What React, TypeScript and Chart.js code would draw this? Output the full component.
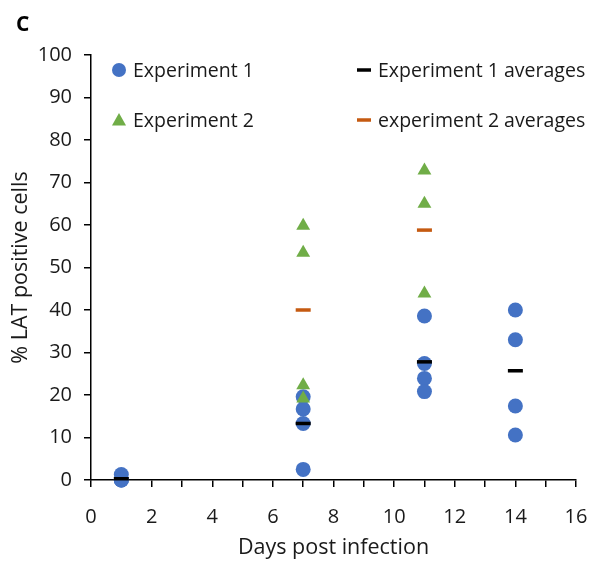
import React, { useEffect, useRef } from "react";
import { Chart, registerables } from "chart.js";

Chart.register(...registerables);

// Days on which samples were taken
const exp1Days = [1, 7, 11, 14];
const exp2Days = [7, 11];

// % LAT positive cells, one list per day
const exp1Values: number[][] = [
  [1.3, 0, 0, 0],
  [19.6, 16.7, 13.3, 2.5],
  [38.6, 27.4, 23.9, 20.8],
  [40, 33, 17.4, 10.6],
];
const exp2Values: number[][] = [
  [59.8, 53.5, 22.3, 19.2],
  [72.8, 65, 43.9],
];

// Per-day averages
const exp1Averages = [0.3, 13.3, 27.8, 25.7];
const exp2Averages = [40, 58.8];

const seriesNames = ["Experiment 1", "Experiment 2", "Experiment 1 averages", "experiment 2 averages"];
const xTitle = "Days post infection";
const yTitle = "% LAT positive cells";
const panelLetter = "C";

const BLUE = "#4472C4";
const GREEN = "#70AD47";
const BLACK = "#000000";
const ORANGE = "#C55A11";
const TEXT = "#1a1a1a";
const FONT = "'Open Sans'";

function toPoints(days: number[], values: number[][]) {
  const pts: { x: number; y: number }[] = [];
  days.forEach((d, i) => values[i].forEach((v) => pts.push({ x: d, y: v })));
  return pts;
}

function avgPoints(days: number[], values: number[]) {
  return days.map((d, i) => ({ x: d, y: values[i] }));
}

const legendPlugin = {
  id: "cornerLegend",
  afterDraw(chart: Chart) {
    const ctx = chart.ctx;
    ctx.save();
    // panel letter
    ctx.fillStyle = BLACK;
    ctx.font = `bold 21px ${FONT}`;
    ctx.textBaseline = "middle";
    ctx.textAlign = "left";
    ctx.fillText(panelLetter, 16, 25);

    ctx.font = `19.5px ${FONT}`;
    const items = [
      { x: 119, y: 70, kind: "circle", color: BLUE, label: seriesNames[0] },
      { x: 119, y: 120, kind: "triangle", color: GREEN, label: seriesNames[1] },
      { x: 364, y: 70, kind: "dash", color: BLACK, label: seriesNames[2] },
      { x: 364, y: 120, kind: "dash", color: ORANGE, label: seriesNames[3] },
    ];
    for (const it of items) {
      ctx.fillStyle = it.color;
      ctx.strokeStyle = it.color;
      if (it.kind === "circle") {
        ctx.beginPath();
        ctx.arc(it.x, it.y, 7, 0, Math.PI * 2);
        ctx.fill();
      } else if (it.kind === "triangle") {
        ctx.beginPath();
        ctx.moveTo(it.x, it.y - 7);
        ctx.lineTo(it.x + 7, it.y + 5.5);
        ctx.lineTo(it.x - 7, it.y + 5.5);
        ctx.closePath();
        ctx.fill();
      } else {
        ctx.lineWidth = 3.5;
        ctx.beginPath();
        ctx.moveTo(it.x - 7, it.y);
        ctx.lineTo(it.x + 7, it.y);
        ctx.stroke();
      }
      ctx.fillStyle = TEXT;
      ctx.fillText(it.label, it.x + 14, it.y + 1);
    }
    ctx.restore();
  },
};

export default function App() {
  const ref = useRef<HTMLCanvasElement | null>(null);

  useEffect(() => {
    if (!ref.current) return;
    const chart = new Chart(ref.current, {
      type: "scatter",
      data: {
        datasets: [
          {
            label: seriesNames[0],
            data: toPoints(exp1Days, exp1Values),
            pointStyle: "circle",
            pointRadius: 7.5,
            backgroundColor: BLUE,
            borderColor: BLUE,
            borderWidth: 0,
            clip: false,
            order: 3,
          },
          {
            label: seriesNames[1],
            data: toPoints(exp2Days, exp2Values),
            pointStyle: "triangle",
            pointRadius: 8,
            backgroundColor: GREEN,
            borderColor: GREEN,
            borderWidth: 0,
            clip: false,
            order: 2,
          },
          {
            label: seriesNames[2],
            data: avgPoints(exp1Days, exp1Averages),
            pointStyle: "line",
            pointRadius: 7.5,
            backgroundColor: BLACK,
            borderColor: BLACK,
            borderWidth: 3.5,
            clip: false,
            order: 1,
          },
          {
            label: seriesNames[3],
            data: avgPoints(exp2Days, exp2Averages),
            pointStyle: "line",
            pointRadius: 7.5,
            backgroundColor: ORANGE,
            borderColor: ORANGE,
            borderWidth: 3.5,
            clip: false,
            order: 0,
          },
        ],
      },
      options: {
        responsive: false,
        animation: false,
        events: [],
        layout: { padding: { top: 55, right: 16, left: 0, bottom: 0 } },
        plugins: {
          legend: { display: false },
          tooltip: { enabled: false },
        },
        scales: {
          x: {
            type: "linear",
            min: 0,
            max: 16,
            afterFit: (s: any) => {
              s.height = 83;
              s.paddingLeft = 0;
              s.paddingRight = 0;
            },
            border: { display: true, color: BLACK, width: 1.5 },
            grid: {
              display: true,
              drawOnChartArea: false,
              drawTicks: true,
              tickLength: 7,
              color: BLACK,
              lineWidth: 1.5,
            },
            ticks: {
              stepSize: 1,
              autoSkip: false,
              maxRotation: 0,
              padding: 18,
              color: TEXT,
              font: { family: FONT, size: 20 },
              callback: (v: any) => (Number(v) % 2 === 0 ? String(v) : ""),
            },
            title: {
              display: true,
              text: xTitle,
              color: TEXT,
              font: { family: FONT, size: 21.5 },
              padding: { top: 0, bottom: 2 },
            },
          },
          y: {
            type: "linear",
            min: 0,
            max: 100,
            afterFit: (s: any) => {
              s.width = 91;
              s.paddingTop = 0;
              s.paddingBottom = 0;
            },
            border: { display: true, color: BLACK, width: 1.5 },
            grid: {
              display: true,
              drawOnChartArea: false,
              drawTicks: true,
              tickLength: 7,
              color: BLACK,
              lineWidth: 1.5,
            },
            ticks: {
              stepSize: 10,
              padding: 12,
              color: TEXT,
              font: { family: FONT, size: 20 },
            },
            title: {
              display: true,
              text: yTitle,
              color: TEXT,
              font: { family: FONT, size: 21.5 },
              padding: { top: 8, bottom: 0 },
            },
          },
        },
      },
      plugins: [legendPlugin],
    });
    return () => chart.destroy();
  }, []);

  return (
    <div style={{ position: "fixed", left: 0, top: 0, width: 592, height: 563, background: "#fff" }}>
      <canvas ref={ref} width={592} height={563} style={{ display: "block" }} />
    </div>
  );
}
